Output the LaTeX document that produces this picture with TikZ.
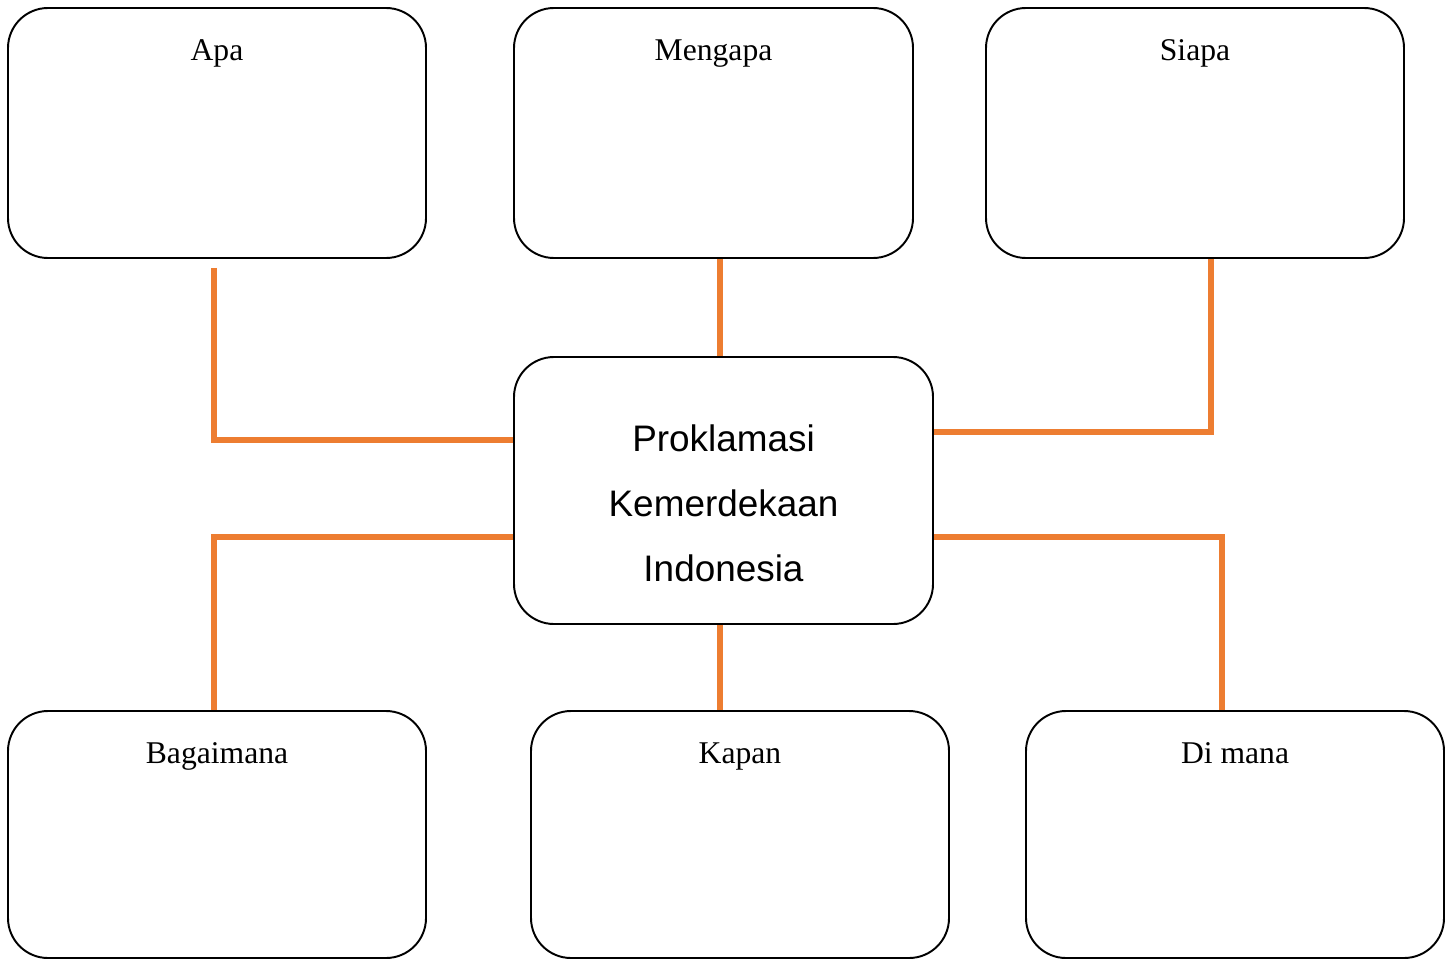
\documentclass[tikz,border=0pt]{standalone}
\usepackage{fontspec}
\setmainfont{Liberation Serif}
\newfontfamily\arialfont{Liberation Sans}
\definecolor{connorange}{HTML}{ED7D31}
\tikzset{
  qbox/.style={draw=black, line width=1.1pt, rounded corners=0.8cm, fill=white, inner sep=0pt},
  qlabel/.style={anchor=base, yshift=-1.06cm, inner sep=0pt, font=\fontsize{18}{22}\selectfont},
  conn/.style={draw=connorange, line width=3.4pt}
}
\begin{document}
\begin{tikzpicture}
\useasboundingbox (0,0) rectangle (29.02,-19.2);
% connectors first (behind boxes)
\node[qbox, minimum width=8.36cm, minimum height=5.0cm, label={[qlabel]north:Apa}] (apa) at (4.34,-2.66) {};
\node[qbox, minimum width=7.98cm, minimum height=5.0cm, label={[qlabel]north:Mengapa}] (mengapa) at (14.27,-2.66) {};
\node[qbox, minimum width=8.36cm, minimum height=5.0cm, label={[qlabel]north:Siapa}] (siapa) at (23.9,-2.66) {};
\node[qbox, minimum width=8.38cm, minimum height=5.34cm,
  label={[yshift=-0.26cm, align=center, inner sep=0pt, font=\arialfont\fontsize{21}{37}\selectfont]center:Proklamasi\\Kemerdekaan\\Indonesia}] (center) at (14.47,-9.81) {};
\node[qbox, minimum width=8.36cm, minimum height=4.94cm, label={[qlabel]north:Bagaimana}] (bagaimana) at (4.34,-16.69) {};
\node[qbox, minimum width=8.36cm, minimum height=4.94cm, label={[qlabel]north:Kapan}] (kapan) at (14.8,-16.69) {};
\node[qbox, minimum width=8.36cm, minimum height=4.94cm, label={[qlabel]north:Di mana}] (dimana) at (24.7,-16.69) {};
% connectors
\draw[conn] ([xshift=-0.06cm,yshift=-0.18cm]apa.south) |- ([yshift=1.01cm]center.west);
\draw[conn] ([xshift=-0.07cm]center.north) -- ([xshift=-0.07cm]center.north |- mengapa.south);
\draw[conn] ([xshift=0.32cm]siapa.south) |- ([yshift=1.17cm]center.east);
\draw[conn] ([yshift=-0.93cm]center.west) -| ([xshift=-0.06cm]bagaimana.north);
\draw[conn] ([xshift=-0.07cm]center.south) -- ([xshift=-0.07cm]center.south |- kapan.north);
\draw[conn] ([yshift=-0.93cm]center.east) -| ([xshift=-0.26cm]dimana.north);
\end{tikzpicture}
\end{document}
